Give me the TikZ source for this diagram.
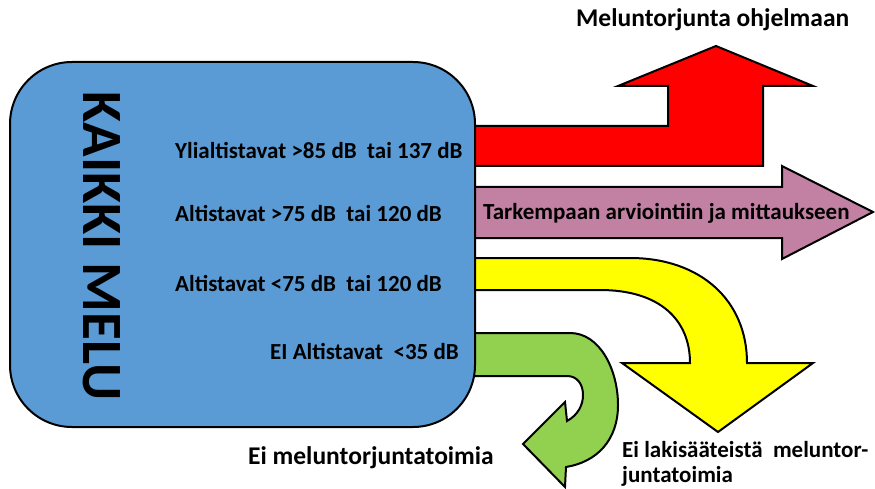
\documentclass[tikz,border=0pt]{standalone}
\usepackage{fontspec}
\setmainfont{Carlito}
\definecolor{myred}{RGB}{255,0,0}
\definecolor{mypink}{RGB}{194,128,162}
\definecolor{myyellow}{RGB}{255,255,0}
\definecolor{mygreen}{RGB}{146,208,80}
\definecolor{myblue}{RGB}{91,155,213}
\begin{document}
\begin{tikzpicture}[x=1pt,y=-1pt,
  lbl/.style={font=\fontsize{23}{26}\selectfont\bfseries, inner sep=0pt, anchor=west},
  biglbl/.style={font=\fontsize{25.5}{28}\selectfont\bfseries, inner sep=0pt, anchor=west},
  arrowshape/.style={draw=black, line width=2pt, line join=miter}]
\useasboundingbox (0,0) rectangle (875,489);
\fill[white] (0,0) rectangle (875,489);
% red arrow
\draw[arrowshape, fill=myred] (470,126) -- (668,126) -- (668,86) -- (618,86) -- (716,46) -- (813,86) -- (763,86) -- (763,166) -- (470,166) -- cycle;
% pink arrow
\draw[arrowshape, fill=mypink] (470,187) -- (782,187) -- (782,166) -- (873,212) -- (782,259) -- (782,238) -- (470,238) -- cycle;
% yellow arrow
\draw[arrowshape, fill=myyellow] (470,258) -- (630,258) .. controls (700,258) and (747,300) .. (747,363) -- (813,363) -- (718,432) -- (622,363) -- (690,363) .. controls (690,320) and (660,290) .. (600,290) -- (470,290) -- cycle;
% green arrow
\draw[arrowshape, fill=mygreen] (470,333) -- (570,333) .. controls (600,333) and (618,370) .. (618,405) .. controls (618,440) and (597,462) .. (566,467) -- (565,487) -- (523,444) -- (565,402) -- (567,421) .. controls (578,415) and (583,405) .. (583,395) .. controls (583,384) and (577,376) .. (567,376) -- (470,376) -- cycle;
% main box
\node[draw=black, line width=2pt, fill=myblue, rounded corners=62pt, minimum width=465pt, minimum height=365pt, inner sep=0pt] (box) at (242.5,244.5) {};
\node[rotate=-90, font=\fontsize{57}{60}\selectfont\bfseries, inner sep=0pt] (kaikki) at (102,246) {KAIKKI MELU};
\node[lbl] (r1) at (175,150) {Ylialtistavat >85 dB\ \ tai 137 dB};
\node[lbl] (r2) at (175,213) {Altistavat >75 dB\ \ tai 120 dB};
\node[lbl] (r3) at (175,283) {Altistavat <75 dB\ \ tai 120 dB};
\node[lbl] (r4) at (270,351) {EI Altistavat\ \ <35 dB};
\node[lbl] (pinktxt) at (483,213) {Tarkempaan arviointiin ja mittaukseen};
\node[biglbl] (top) at (576,20) {Meluntorjunta ohjelmaan};
\node[biglbl] (ei1) at (248,458) {Ei meluntorjuntatoimia};
\node[lbl] (ei2) at (622,450) {Ei lakisääteistä\ \ meluntor-};
\node[lbl] (ei3) at (622,476) {juntatoimia};
\end{tikzpicture}
\end{document}
